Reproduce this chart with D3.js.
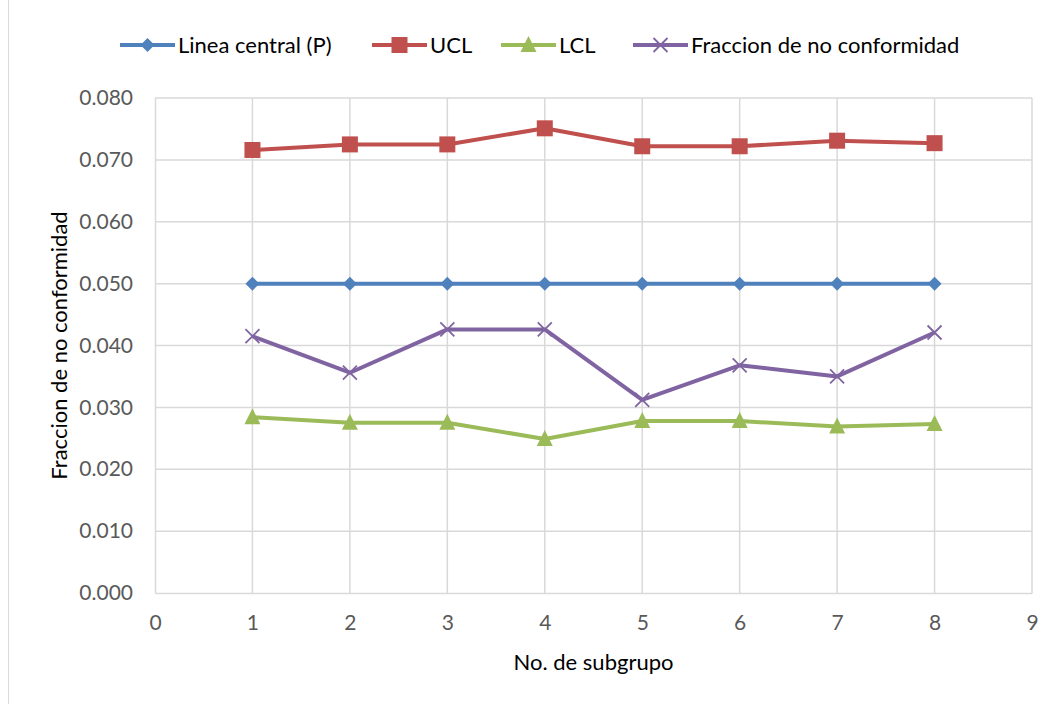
<!DOCTYPE html>
<html>
<head>
<meta charset="utf-8">
<script src="https://cdn.jsdelivr.net/npm/d3@7"></script>
<style>
	body { margin: 0; background: #fff; }
	svg { display: block; font-family: Lato, 'Liberation Sans', sans-serif; }
	.tick text { fill: #595959; font-size: 21px; }
</style>
</head>
<body>
<script>
const w = 1054;
const h = 704;
const margin = { top: 98, bottom: 111, left: 155, right: 22 };

// data
const subgroups = [1, 2, 3, 4, 5, 6, 7, 8];
const centralLine = [0.05, 0.05, 0.05, 0.05, 0.05, 0.05, 0.05, 0.05];
const ucl = [0.0716, 0.0725, 0.0725, 0.0751, 0.0722, 0.0722, 0.0731, 0.0727];
const lcl = [0.0284, 0.0275, 0.0275, 0.0249, 0.0278, 0.0278, 0.0269, 0.0273];
const fraction = [0.0415, 0.0356, 0.0426, 0.0426, 0.0312, 0.0368, 0.035, 0.0421];
const xTicks = [0, 1, 2, 3, 4, 5, 6, 7, 8, 9];
const yTicks = [0, 0.01, 0.02, 0.03, 0.04, 0.05, 0.06, 0.07, 0.08];

const series = [
	{ name: 'Linea central (P)', values: centralLine, color: '#4f81bd', marker: 'diamond' },
	{ name: 'UCL', values: ucl, color: '#c0504d', marker: 'square' },
	{ name: 'LCL', values: lcl, color: '#9bbb59', marker: 'triangle' },
	{ name: 'Fraccion de no conformidad', values: fraction, color: '#8064a2', marker: 'cross' }
];

const svg = d3.select('body').append('svg').attr('width', w).attr('height', h);

// chart border
svg.append('rect')
	.attr('x', 8.5).attr('y', -2).attr('width', w + 10).attr('height', h + 10)
	.attr('fill', 'none').attr('stroke', '#d9d9d9');

const x = d3.scaleLinear().domain([0, 9]).range([margin.left, w - margin.right]);
const y = d3.scaleLinear().domain([0, 0.08]).range([h - margin.bottom, margin.top]);

// grid
svg.append('g').selectAll('line').data(yTicks.slice(1)).enter().append('line')
	.attr('x1', x(0)).attr('x2', x(9))
	.attr('y1', d => y(d)).attr('y2', d => y(d))
	.attr('stroke', '#d9d9d9').attr('stroke-width', 1.5);
svg.append('g').selectAll('line').data(xTicks.slice(1)).enter().append('line')
	.attr('x1', d => x(d)).attr('x2', d => x(d))
	.attr('y1', y(0)).attr('y2', y(0.08))
	.attr('stroke', '#d9d9d9').attr('stroke-width', 1.5);

const xAxis = d3.axisBottom(x).tickValues(xTicks).tickFormat(d3.format('d')).tickSize(0).tickPadding(22);
const yAxis = d3.axisLeft(y).tickValues(yTicks).tickFormat(d3.format('.3f')).tickSize(0).tickPadding(22);

svg.append('g').attr('transform', 'translate(0,' + y(0) + ')').call(xAxis)
	.call(g => g.select('.domain').attr('stroke', '#d9d9d9').attr('stroke-width', 1.5));
svg.append('g').attr('transform', 'translate(' + x(0) + ',0)').call(yAxis)
	.call(g => g.select('.domain').attr('stroke', '#d9d9d9').attr('stroke-width', 1.5));
svg.selectAll('.tick text').attr('font-family', 'Lato, sans-serif');

// axis titles
svg.append('text')
	.attr('x', (x(0) + x(9)) / 2).attr('y', 670)
	.attr('text-anchor', 'middle').attr('font-size', 22).attr('fill', '#000')
	.text('No. de subgrupo');
svg.append('text')
	.attr('transform', 'translate(67,' + (y(0.04)) + ') rotate(-90)')
	.attr('text-anchor', 'middle').attr('font-size', 22).attr('fill', '#000')
	.text('Fraccion de no conformidad');

function drawMarker(g, type, color) {
	if (type === 'diamond') {
		g.append('path').attr('d', 'M0,-7L7,0L0,7L-7,0Z').attr('fill', color);
	} else if (type === 'square') {
		g.append('rect').attr('x', -8).attr('y', -8).attr('width', 16).attr('height', 16).attr('fill', color);
	} else if (type === 'triangle') {
		g.append('path').attr('d', 'M0,-9L8,7L-8,7Z').attr('fill', color);
	} else {
		g.append('path').attr('d', 'M-7,-7L7,7M-7,7L7,-7').attr('stroke', color).attr('stroke-width', 1.8);
	}
}

const line = d3.line().x((d, i) => x(subgroups[i])).y(d => y(d));

series.forEach(function(s) {
	svg.append('path')
		.datum(s.values)
		.attr('d', line)
		.attr('fill', 'none')
		.attr('stroke', s.color)
		.attr('stroke-width', 4)
		.attr('stroke-linejoin', 'round');
	s.values.forEach(function(v, i) {
		const g = svg.append('g').attr('transform', 'translate(' + x(subgroups[i]) + ',' + y(v) + ')');
		drawMarker(g, s.marker, s.color);
	});
});

// legend
const legendX = [120, 372, 501, 633];
series.forEach(function(s, i) {
	const g = svg.append('g').attr('transform', 'translate(' + legendX[i] + ',45)');
	g.append('line').attr('x1', 0).attr('x2', 55).attr('y1', 0).attr('y2', 0)
		.attr('stroke', s.color).attr('stroke-width', 4);
	const m = g.append('g').attr('transform', 'translate(27.5,0)');
	drawMarker(m, s.marker, s.color);
	g.append('text').attr('x', 58).attr('y', 8).attr('font-size', 22).attr('fill', '#000').text(s.name);
});
</script>
</body>
</html>
